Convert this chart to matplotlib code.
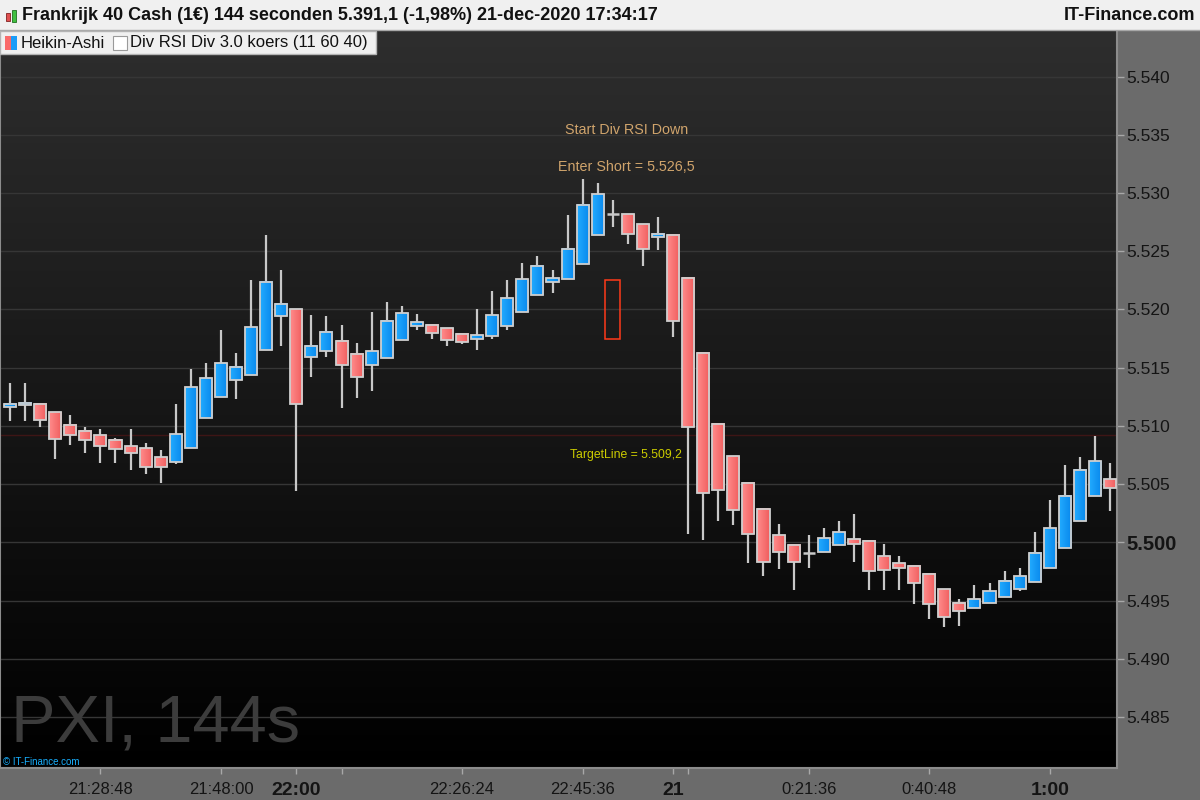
import numpy as np
import matplotlib
matplotlib.use("Agg")
import matplotlib.pyplot as plt
from matplotlib.patches import Rectangle
from matplotlib.colors import LinearSegmentedColormap

# ---------------- data (Heikin-Ashi bars, points) ----------------
ha_open = [5511.6, 5511.8, 5511.9, 5511.2, 5510.1, 5509.6, 5509.2, 5508.8, 5508.3, 5508.1,
           5507.3, 5506.9, 5508.1, 5510.7, 5512.5, 5513.9, 5514.4, 5516.5, 5519.4, 5520.0,
           5515.9, 5516.4, 5517.3, 5516.2, 5515.2, 5515.8, 5517.4, 5518.6, 5518.7, 5518.4,
           5517.9, 5517.5, 5517.7, 5518.6, 5519.8, 5521.2, 5522.4, 5522.6, 5523.9, 5526.4,
           5528.2, 5528.2, 5527.3, 5526.2, 5526.4, 5522.7, 5516.3, 5510.2, 5507.4, 5505.1,
           5502.9, 5500.6, 5499.8, 5499.1, 5499.2, 5499.8, 5500.3, 5500.1, 5498.8, 5498.2,
           5498.0, 5497.3, 5496.0, 5494.8, 5494.4, 5494.8, 5495.3, 5496.0, 5496.6, 5497.8,
           5499.5, 5501.8, 5504.0, 5505.4]
ha_high = [5513.7, 5513.7, 5511.9, 5511.2, 5510.9, 5509.9, 5509.7, 5509.0, 5509.7, 5508.5,
           5507.9, 5511.9, 5514.9, 5515.4, 5518.2, 5516.3, 5522.5, 5526.4, 5523.4, 5520.0,
           5519.5, 5519.4, 5518.7, 5517.1, 5519.8, 5520.6, 5520.3, 5519.6, 5518.7, 5518.4,
           5517.9, 5520.0, 5521.6, 5522.5, 5524.0, 5524.6, 5523.4, 5528.1, 5531.2, 5530.9,
           5529.4, 5528.2, 5527.3, 5527.9, 5526.4, 5522.7, 5516.3, 5510.2, 5507.4, 5505.1,
           5502.9, 5501.6, 5499.8, 5500.6, 5501.2, 5501.8, 5502.4, 5500.1, 5499.9, 5498.8,
           5498.0, 5497.3, 5496.0, 5495.1, 5496.3, 5496.5, 5497.5, 5497.8, 5500.9, 5503.6,
           5506.6, 5507.3, 5509.1, 5506.8]
ha_low = [5510.4, 5510.4, 5509.9, 5507.2, 5508.4, 5507.7, 5506.8, 5506.8, 5506.2, 5505.9,
          5505.1, 5506.7, 5508.1, 5510.7, 5512.5, 5512.3, 5514.4, 5516.5, 5516.9, 5504.4,
          5514.2, 5515.9, 5511.5, 5512.4, 5513.0, 5515.8, 5517.4, 5518.2, 5517.5, 5516.9,
          5517.0, 5516.5, 5517.5, 5518.2, 5519.8, 5521.2, 5521.4, 5522.6, 5523.9, 5526.4,
          5527.1, 5525.6, 5523.7, 5525.1, 5517.6, 5500.7, 5500.2, 5501.8, 5501.5, 5498.2,
          5497.1, 5497.7, 5495.9, 5497.8, 5499.2, 5499.8, 5498.3, 5495.9, 5495.9, 5495.9,
          5494.7, 5493.4, 5492.7, 5492.8, 5494.4, 5494.8, 5495.3, 5495.8, 5496.6, 5497.8,
          5499.5, 5501.8, 5504.0, 5502.7]
ha_close = [5511.9, 5512.0, 5510.5, 5508.9, 5509.2, 5508.8, 5508.3, 5508.0, 5507.7, 5506.5,
            5506.5, 5509.3, 5513.3, 5514.1, 5515.4, 5515.1, 5518.5, 5522.4, 5520.5, 5511.9,
            5516.9, 5518.1, 5515.2, 5514.2, 5516.4, 5519.0, 5519.7, 5518.9, 5518.0, 5517.4,
            5517.2, 5517.8, 5519.5, 5521.0, 5522.6, 5523.7, 5522.7, 5525.2, 5529.0, 5529.9,
            5528.2, 5526.5, 5525.2, 5526.5, 5519.0, 5509.9, 5504.2, 5504.5, 5502.8, 5500.7,
            5498.3, 5499.2, 5498.3, 5499.1, 5500.4, 5500.9, 5499.9, 5497.5, 5497.6, 5497.8,
            5496.5, 5494.7, 5493.6, 5494.1, 5495.1, 5495.8, 5496.7, 5497.1, 5499.1, 5501.2,
            5504.0, 5506.2, 5507.0, 5504.7]

time_tick_idx = [6, 14, 19, 22, 30, 38, 44, 45, 53, 61, 69]
time_tick_labels = ["21:28:48", "21:48:00", "22:00", "", "22:26:24", "22:45:36", "21", "",
                    "0:21:36", "0:40:48", "1:00"]
bold_time_labels = ["22:00", "21", "1:00"]
price_ticks = [5485, 5490, 5495, 5500, 5505, 5510, 5515, 5520, 5525, 5530, 5535, 5540]

signal_bar = 40
signal_box = (5517.5, 5522.5)
enter_short = 5526.5
target_line = 5509.2

title_text = "Frankrijk 40 Cash (1\u20ac) 144 seconden 5.391,1 (-1,98%) 21-dec-2020 17:34:17"

# ---------------- figure ----------------
W, H = 1200, 800
FONT = ["Liberation Sans", "DejaVu Sans"]
NARROW = ["Liberation Sans Narrow", "Liberation Sans", "DejaVu Sans"]
plt.rcParams["font.family"] = FONT
fig = plt.figure(figsize=(12, 8), dpi=100, facecolor="#6b6b6b")

def fx(x):
    return x / W

def fy(y):
    return 1 - y / H

ax = fig.add_axes([0, 32 / H, 1117 / W, 738 / H])
x0, x1 = -0.664, 73.46
y0, y1 = 5480.62, 5544.0

# background gradient
grad = np.linspace(0, 1, 256).reshape(-1, 1)
bg_cmap = LinearSegmentedColormap.from_list("bg", ["#000000", "#2e2e2e"])
ax.imshow(grad, extent=[x0, x1, y0, y1], aspect="auto", cmap=bg_cmap,
          origin="lower", zorder=0, interpolation="bilinear")

for p in price_ticks:
    ax.axhline(p, color="#363636", lw=1.0, zorder=1)
ax.axhline(target_line, color="#3e1515", lw=1.0, zorder=1)

red_cmap = LinearSegmentedColormap.from_list("r", ["#ff8c8c", "#f05c5c"])
blue_cmap = LinearSegmentedColormap.from_list("b", ["#22acff", "#0886ec"])
hgrad = np.linspace(0, 1, 64).reshape(1, -1)
bw = 0.8
wick_c = "#c8c8c8"
for i in range(len(ha_open)):
    o, h, l, c = ha_open[i], ha_high[i], ha_low[i], ha_close[i]
    ax.plot([i, i], [l, h], color=wick_c, lw=1.6, zorder=2, solid_capstyle="butt")
    if abs(c - o) < 1e-9:
        ax.plot([i - bw / 2, i + bw / 2], [o, o], color=wick_c, lw=1.8, zorder=3,
                solid_capstyle="butt")
        continue
    lo, hi = min(o, c), max(o, c)
    cm = blue_cmap if c > o else red_cmap
    ax.imshow(hgrad, extent=[i - bw / 2, i + bw / 2, lo, hi], aspect="auto", cmap=cm,
              zorder=3, interpolation="bilinear")
    ax.add_patch(Rectangle((i - bw / 2, lo), bw, hi - lo, facecolor="none",
                           edgecolor="#cfcfcf", lw=1.3, zorder=4))

# signal box
ax.add_patch(Rectangle((signal_bar - 0.5, signal_box[0]), 1.0, signal_box[1] - signal_box[0],
                       facecolor="none", edgecolor="#ff3a1a", lw=1.1, zorder=5))

ax.text(40.9, 5535.4, "Start Div RSI Down", color="#d0a46c", fontsize=10.3,
        ha="center", va="center", zorder=6)
ax.text(40.9, 5532.25, "Enter Short = 5.526,5", color="#d0a46c", fontsize=10.3,
        ha="center", va="center", zorder=6)
ax.text(40.9, 5507.5, "TargetLine = 5.509,2", color="#cccc00", fontsize=8.8,
        ha="center", va="center", zorder=6)

ax.set_xlim(x0, x1)
ax.set_ylim(y0, y1)

# axes / ticks
ax.yaxis.tick_right()
ax.set_yticks(price_ticks)
ax.set_yticklabels([f"{p / 1000:.3f}" for p in price_ticks])
ax.tick_params(axis="y", direction="out", length=5, width=1, color="#a8a8a8",
               labelsize=12.5, pad=2)
for t, p in zip(ax.yaxis.get_major_ticks(), price_ticks):
    for lab in (t.label1, t.label2):
        lab.set_color("#141414")
        if p == 5500:
            lab.set_fontweight("bold")
            lab.set_fontsize(14.5)

ax.set_xticks(time_tick_idx)
ax.set_xticklabels(time_tick_labels)
ax.tick_params(axis="x", direction="out", length=4, width=1, color="#a8a8a8",
               labelsize=12, pad=6)
for t in ax.xaxis.get_major_ticks():
    lab = t.label1
    lab.set_color("#141414")
    lab.set_fontfamily(NARROW)
    if lab.get_text() in bold_time_labels:
        lab.set_fontweight("bold")
        lab.set_fontsize(14)

ax.spines["top"].set_visible(False)
for s in ["right", "bottom", "left"]:
    ax.spines[s].set_color("#8c8c8c")
    ax.spines[s].set_linewidth(1.5)

# header bar
fig.patches.append(Rectangle((0, fy(30)), 1, 30 / H, transform=fig.transFigure,
                             facecolor="#f0f0f0", edgecolor="none", zorder=0))
fig.add_artist(plt.Line2D([0, 1], [fy(30), fy(30)], color="#a8a8a8", lw=1))
# little candle icon
fig.patches.append(Rectangle((fx(6), fy(21)), fx(4), 8 / H, transform=fig.transFigure,
                             facecolor="#e05050", edgecolor="#802020", lw=0.6))
fig.patches.append(Rectangle((fx(12), fy(22)), fx(4), 12 / H, transform=fig.transFigure,
                             facecolor="#40c040", edgecolor="#207020", lw=0.6))
fig.text(fx(22), fy(16), title_text, fontsize=13, fontweight="bold", color="#111111",
         ha="left", va="center")
fig.text(fx(1195), fy(16), "IT-Finance.com", fontsize=13, fontweight="bold",
         color="#111111", ha="right", va="center")

# legend strip
fig.patches.append(Rectangle((0, fy(54)), fx(376), 23 / H, transform=fig.transFigure,
                             facecolor="#f0f0f0", edgecolor="#b4b4b4", lw=1, zorder=5))
fig.add_artist(plt.Line2D([fx(108), fx(108)], [fy(53), fy(31)], color="#b4b4b4", lw=1))
fig.patches.append(Rectangle((fx(5), fy(50)), fx(6), 14 / H, transform=fig.transFigure,
                             facecolor="#fa6a6a", edgecolor="none", zorder=6))
fig.patches.append(Rectangle((fx(11), fy(50)), fx(6), 14 / H, transform=fig.transFigure,
                             facecolor="#1a9cf8", edgecolor="none", zorder=6))
fig.patches.append(Rectangle((fx(113), fy(50)), fx(14), 14 / H, transform=fig.transFigure,
                             facecolor="#ffffff", edgecolor="#9a9a9a", lw=0.8, zorder=6))
fig.text(fx(21), fy(43), "Heikin-Ashi", fontsize=12, color="#111111", ha="left",
         va="center", zorder=7)
fig.text(fx(130), fy(43), "Div RSI Div 3.0 koers (11 60 40)", fontsize=12,
         color="#111111", ha="left", va="center", zorder=7)

# watermark and copyright
fig.text(fx(11), fy(742), "PXI, 144s", fontsize=48, color="#3c3c3c", ha="left",
         va="baseline")
fig.text(fx(3), fy(762), "\u00a9 IT-Finance.com", fontsize=7, color="#18b0ff",
         ha="left", va="center")

fig.savefig("out.png", dpi=100, facecolor=fig.get_facecolor())
